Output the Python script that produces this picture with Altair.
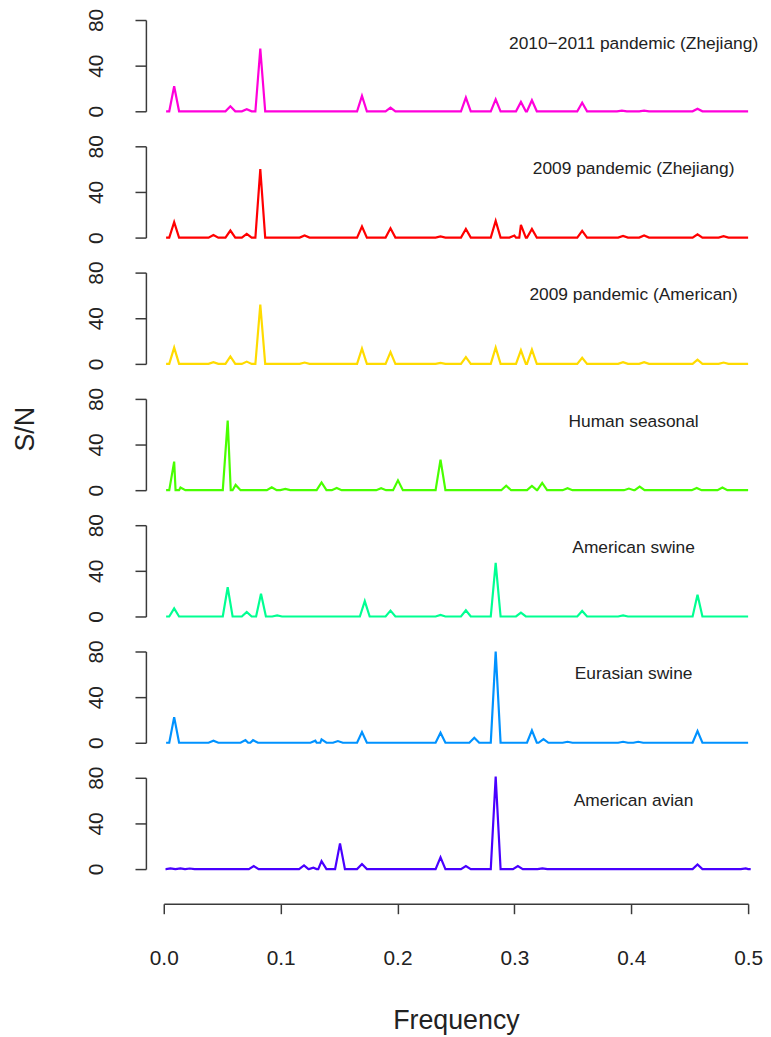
import altair as alt
import pandas as pd

# ---- data ----
labels = [
    "2010\u22122011 pandemic (Zhejiang)",
    "2009 pandemic (Zhejiang)",
    "2009 pandemic (American)",
    "Human seasonal",
    "American swine",
    "Eurasian swine",
    "American avian",
]
colors = ["#FF00DB", "#FF0000", "#FFDB00", "#49FF00", "#00FF92", "#0092FF", "#4900FF"]

# peak frequencies / S/N heights per series
p1_f = [0.0089, 0.057, 0.071, 0.0826, 0.1696, 0.194, 0.2585, 0.284, 0.3056, 0.315, 0.358, 0.392, 0.411, 0.4567]
p1_v = [22, 4.4, 1.8, 55, 13.5, 3.2, 12, 10.5, 8.2, 9.7, 7.6, 0.6, 0.6, 2.3]

p2_f = [0.0089, 0.0425, 0.057, 0.071, 0.0826, 0.1205, 0.1696, 0.194, 0.2368, 0.2585, 0.284, 0.300, 0.3056, 0.315, 0.358, 0.393, 0.411, 0.4567, 0.479]
p2_v = [13.5, 2.3, 6.2, 3.2, 60, 1.8, 9.7, 8.2, 1.0, 7.6, 14.6, 1.8, 11.1, 7.6, 5.9, 1.5, 1.8, 2.9, 1.2]

p3_f = [0.0089, 0.0425, 0.057, 0.071, 0.0826, 0.1205, 0.1696, 0.194, 0.2368, 0.2585, 0.284, 0.3056, 0.315, 0.358, 0.393, 0.411, 0.4567, 0.479]
p3_v = [14.3, 1.5, 6.5, 2.0, 52, 1.2, 13.4, 10.4, 0.9, 5.9, 14.3, 11.9, 12.5, 5.3, 1.5, 1.5, 3.6, 1.2]

p4_f = [0.0089, 0.0143, 0.0547, 0.0615, 0.0924, 0.104, 0.135, 0.148, 0.186, 0.2004, 0.2368, 0.293, 0.315, 0.3238, 0.3455, 0.398, 0.4072, 0.456, 0.478]
p4_v = [25, 2.3, 61, 4.6, 2.6, 1.1, 6.8, 2.0, 1.7, 8.6, 26.8, 4.0, 3.7, 6.3, 1.7, 1.4, 3.1, 2.0, 2.3]

p5_f = [0.0089, 0.0547, 0.071, 0.0832, 0.097, 0.172, 0.194, 0.2368, 0.2585, 0.284, 0.3056, 0.358, 0.393, 0.4567]
p5_v = [7.1, 25.6, 4.0, 20, 0.9, 13.4, 5.1, 1.4, 5.4, 47, 3.4, 4.8, 0.9, 19]

p6_f = [0.0089, 0.0425, 0.0699, 0.0764, 0.1297, 0.135, 0.149, 0.1696, 0.2368, 0.2657, 0.284, 0.315, 0.3249, 0.3455, 0.393, 0.406, 0.4567]
p6_v = [22.5, 1.8, 2.3, 2.3, 1.8, 2.9, 1.5, 9.3, 8.8, 4.4, 80, 10.8, 3.2, 0.9, 0.9, 0.9, 10.2]

p7_f = [0.0057, 0.0143, 0.0222, 0.077, 0.120, 0.128, 0.135, 0.1508, 0.1696, 0.2368, 0.2585, 0.284, 0.303, 0.324, 0.4567, 0.498]
p7_v = [0.6, 0.6, 0.5, 2.6, 3.2, 1.2, 7.0, 22.5, 4.4, 10.2, 2.6, 81, 2.6, 0.6, 4.1, 0.6]

peak_f = [p1_f, p2_f, p3_f, p4_f, p5_f, p6_f, p7_f]
peak_v = [p1_v, p2_v, p3_v, p4_v, p5_v, p6_v, p7_v]

label_f = [0.402, 0.402, 0.402, 0.402, 0.402, 0.402, 0.402]
label_v = [59, 60, 60, 60, 60, 60, 60]

x_ticks = [0.0, 0.1, 0.2, 0.3, 0.4, 0.5]
y_ticks = [0, 40, 80]

F_START, F_END, HALF = 0.002, 0.5, 0.0042
FONT = "Liberation Sans"
AXC = "#3a3a3a"


def series_frame(fs, vs):
    pts = [(F_START, 0.0), (F_END, 0.0)]
    for f, v in zip(fs, vs):
        pts += [(f - HALF, 0.0), (f, v), (f + HALF, 0.0)]
    pts.sort(key=lambda p: p[0])
    return pd.DataFrame({"f": [p[0] for p in pts], "v": [p[1] for p in pts], "o": range(len(pts))})


def panel(i):
    df = series_frame(peak_f[i], peak_v[i])
    xscale = alt.Scale(domain=[0, 0.5], nice=False, zero=False)
    yscale = alt.Scale(domain=[0, 80], nice=False)
    if i == 6:
        xaxis = alt.Axis(values=x_ticks, format=".1f", offset=35, tickSize=10, grid=False,
                         labelFontSize=21, labelFont=FONT, labelColor="#222", labelPadding=45,
                         labelBaseline="middle", labelFlush=False,
                         domainColor=AXC, tickColor=AXC, domainWidth=1.5, tickWidth=1.5,
                         title="Frequency", titleFontSize=27, titleFont=FONT, titleFontWeight="normal",
                         titleColor="#222", titleBaseline="middle", titleY=118)
    else:
        xaxis = None
    ykw = dict(values=y_ticks, offset=18, tickSize=11, grid=False,
               labelFontSize=21, labelFont=FONT, labelColor="#222", labelAngle=270,
               labelAlign="center", labelBaseline="middle", labelPadding=39, labelFlush=False,
               domainColor=AXC, tickColor=AXC, domainWidth=1.5, tickWidth=1.5)
    if i == 3:
        yaxis = alt.Axis(title="S/N", titleFontSize=27, titleFont=FONT, titleFontWeight="normal",
                         titleColor="#222", titleAngle=270, titleAlign="center",
                         titleBaseline="middle", titleX=-121, titleY=30, **ykw)
    else:
        yaxis = alt.Axis(title=None, **ykw)
    line = alt.Chart(df).mark_line(color=colors[i], strokeWidth=2.2, clip=False).encode(
        x=alt.X("f:Q", scale=xscale, axis=xaxis),
        y=alt.Y("v:Q", scale=yscale, axis=yaxis),
        order="o:Q",
    )
    tdf = pd.DataFrame({"f": [label_f[i]], "v": [label_v[i]], "t": [labels[i]]})
    txt = alt.Chart(tdf).mark_text(fontSize=17.5, font=FONT, color="#222",
                                    align="center", baseline="middle").encode(
        x=alt.X("f:Q", scale=xscale, axis=xaxis),
        y=alt.Y("v:Q", scale=yscale, axis=yaxis),
        text="t:N",
    )
    return alt.layer(line, txt).properties(width=589, height=92)


chart = alt.vconcat(*[panel(i) for i in range(7)], spacing=35.3, bounds="flush").properties(
    padding={"left": 4, "top": -4, "right": 0, "bottom": 5},
    background="white",
).configure_view(strokeWidth=0, stroke=None)

chart.save("out.html", embed_options={"renderer": "svg", "actions": False})
